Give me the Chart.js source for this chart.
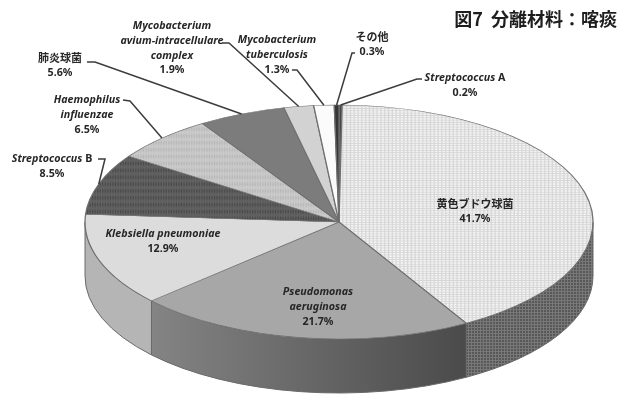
<!DOCTYPE html>
<html>
<head>
<meta charset="utf-8">
<script src="https://cdn.jsdelivr.net/npm/chart.js@4.4.1/dist/chart.umd.min.js"></script>
<style>
  html, body { margin: 0; padding: 0; background: #fff; }
  #wrap { width: 625px; height: 401px; position: relative; }
</style>
</head>
<body>
<div id="wrap"><canvas id="myChart"></canvas></div>
<script>
// data (percent of isolates)
const categories = ['Streptococcus A', '黄色ブドウ球菌', 'Pseudomonas aeruginosa', 'Klebsiella pneumoniae',
  'Streptococcus B', 'Haemophilus influenzae', '肺炎球菌', 'Mycobacterium avium-intracellulare complex',
  'Mycobacterium tuberculosis', 'その他'];
const percents = [0.2, 41.7, 21.7, 12.9, 8.5, 6.5, 5.6, 1.9, 1.3, 0.3];
const labelLines = [
  ['Streptococcus A'],
  ['黄色ブドウ球菌'],
  ['Pseudomonas', 'aeruginosa'],
  ['Klebsiella pneumoniae'],
  ['Streptococcus B'],
  ['Haemophilus', 'influenzae'],
  ['肺炎球菌'],
  ['Mycobacterium', 'avium-intracellulare', 'complex'],
  ['Mycobacterium', 'tuberculosis'],
  ['その他']
];
const title = '図7  分離材料：喀痰';

// look of the 3d pie
const CX = 339, CY = 222, RX = 254, RY = 117, DEPTH = 54;

// label placement: text centre x, first line y, leader start + stub end
const labelPos = [
  { x: 465, y: 78, lead: [[422, 79], [417, 79]] },
  { x: 475, y: 204 },
  { x: 318, y: 292 },
  { x: 163, y: 234 },
  { x: 52, y: 159, lead: [[98, 159], [105, 159]] },
  { x: 87, y: 100, lead: [[123, 100], [130, 101]] },
  { x: 60, y: 58, lead: [[87, 62], [95, 62]] },
  { x: 172, y: 26, lead: [[222, 43], [229, 43]] },
  { x: 277, y: 40, lead: [[292, 70], [297, 70]] },
  { x: 372, y: 37, lead: [[355, 53], [352, 53]] }
];

function makePattern(base, dot, size, grid) {
  const c = document.createElement('canvas');
  c.width = size; c.height = size;
  const g = c.getContext('2d');
  g.fillStyle = base; g.fillRect(0, 0, size, size);
  g.fillStyle = dot;
  if (grid) { g.fillRect(0, 0, size, 1); g.fillRect(0, 0, 1, size); }
  else g.fillRect(0, 0, 1, 1);
  return g.createPattern(c, 'repeat');
}

const ctx = document.getElementById('myChart').getContext('2d');

const topColors = [
  '#474747',
  makePattern('#f3f3f3', '#d6d6d6', 3, true),
  '#a7a7a7',
  '#dcdcdc',
  makePattern('#626262', '#444444', 2, false),
  makePattern('#cacaca', '#b2b2b2', 2, false),
  '#7c7c7c',
  '#d2d2d2',
  '#fbfbfb',
  '#363636'
];
const pseudoSide = ctx.createLinearGradient(140, 0, 490, 0);
pseudoSide.addColorStop(0, '#868686');
pseudoSide.addColorStop(1, '#464646');
const sideColors = [
  '#333333',
  makePattern('#585858', '#787878', 3, true),
  pseudoSide,
  '#b5b5b5',
  '#444444', '#999999', '#555555', '#aaaaaa', '#dddddd', '#222222'
];

const pie3d = {
  id: 'pie3d',
  beforeDatasetsDraw(chart) {
    const c = chart.ctx;
    const arcs = chart.getDatasetMeta(0).data;
    // side walls for the front half
    arcs.forEach((arc, i) => {
      const a0 = Math.max(arc.startAngle, 0);
      const a1 = Math.min(arc.endAngle, Math.PI);
      if (a1 <= a0) return;
      c.beginPath();
      c.ellipse(CX, CY, RX, RY, 0, a0, a1);
      c.ellipse(CX, CY + DEPTH, RX, RY, 0, a1, a0, true);
      c.closePath();
      c.fillStyle = sideColors[i];
      c.fill();
      c.strokeStyle = '#6a6a6a';
      c.lineWidth = 1;
      c.stroke();
    });
    // squash the flat pie into the top face
    const a = arcs[0];
    c.save();
    c.translate(CX, CY);
    c.scale(RX / a.outerRadius, RY / a.outerRadius);
    c.translate(-a.x, -a.y);
  },
  afterDatasetsDraw(chart) {
    const c = chart.ctx;
    c.restore();
    const arcs = chart.getDatasetMeta(0).data;
    c.textAlign = 'center';
    c.textBaseline = 'middle';
    arcs.forEach((arc, i) => {
      const p = labelPos[i];
      if (p.lead) {
        const mid = (arc.startAngle + arc.endAngle) / 2;
        const rim = [CX + RX * Math.cos(mid), CY + RY * Math.sin(mid)];
        c.beginPath();
        c.moveTo(p.lead[0][0], p.lead[0][1]);
        c.lineTo(p.lead[1][0], p.lead[1][1]);
        c.lineTo(rim[0], rim[1]);
        c.strokeStyle = '#3c3c3c';
        c.lineWidth = 1.5;
        c.stroke();
      }
      const lines = labelLines[i].concat([percents[i].toFixed(1) + '%']);
      lines.forEach((ln, k) => drawLine(c, ln, p.x, p.y + k * 14.8));
    });
    // title
    c.fillStyle = '#1e1e1e';
    c.textAlign = 'right';
    c.font = 'bold 18px "Noto Sans CJK JP"';
    c.fillText(title, 617, 19);
  }
};

function isLatin(s) { return !/[^\x00-\x7f]/.test(s); }

function drawLine(c, ln, x, y) {
  c.fillStyle = '#262626';
  const upright = 'bold 10.7px "Noto Sans", "Noto Sans CJK JP"';
  const ital = 'italic bold 10.7px "Noto Sans"';
  if (!isLatin(ln) || /%$/.test(ln)) {
    c.textAlign = 'center';
    c.font = /%$/.test(ln) ? upright : 'bold 11px "Noto Sans CJK JP"';
    c.fillText(ln, x, y);
    return;
  }
  // species names italic, trailing group letter upright
  const m = ln.match(/^(.*?)( [A-Z])?$/);
  const parts = [[m[1], ital]];
  if (m[2]) parts.push([m[2], upright]);
  let w = 0;
  parts.forEach(pt => { c.font = pt[1]; w += c.measureText(pt[0]).width; });
  let cx = x - w / 2;
  c.textAlign = 'left';
  parts.forEach(pt => { c.font = pt[1]; c.fillText(pt[0], cx, y); cx += c.measureText(pt[0]).width; });
  c.textAlign = 'center';
}

new Chart(ctx, {
  type: 'pie',
  data: {
    labels: categories,
    datasets: [{
      data: percents,
      backgroundColor: topColors,
      borderColor: '#6f6f6f',
      borderWidth: 1,
      clip: false
    }]
  },
  options: {
    responsive: true,
    maintainAspectRatio: false,
    animation: false,
    events: [],
    plugins: {
      legend: { display: false },
      tooltip: { enabled: false }
    }
  },
  plugins: [pie3d]
});
</script>
</body>
</html>
